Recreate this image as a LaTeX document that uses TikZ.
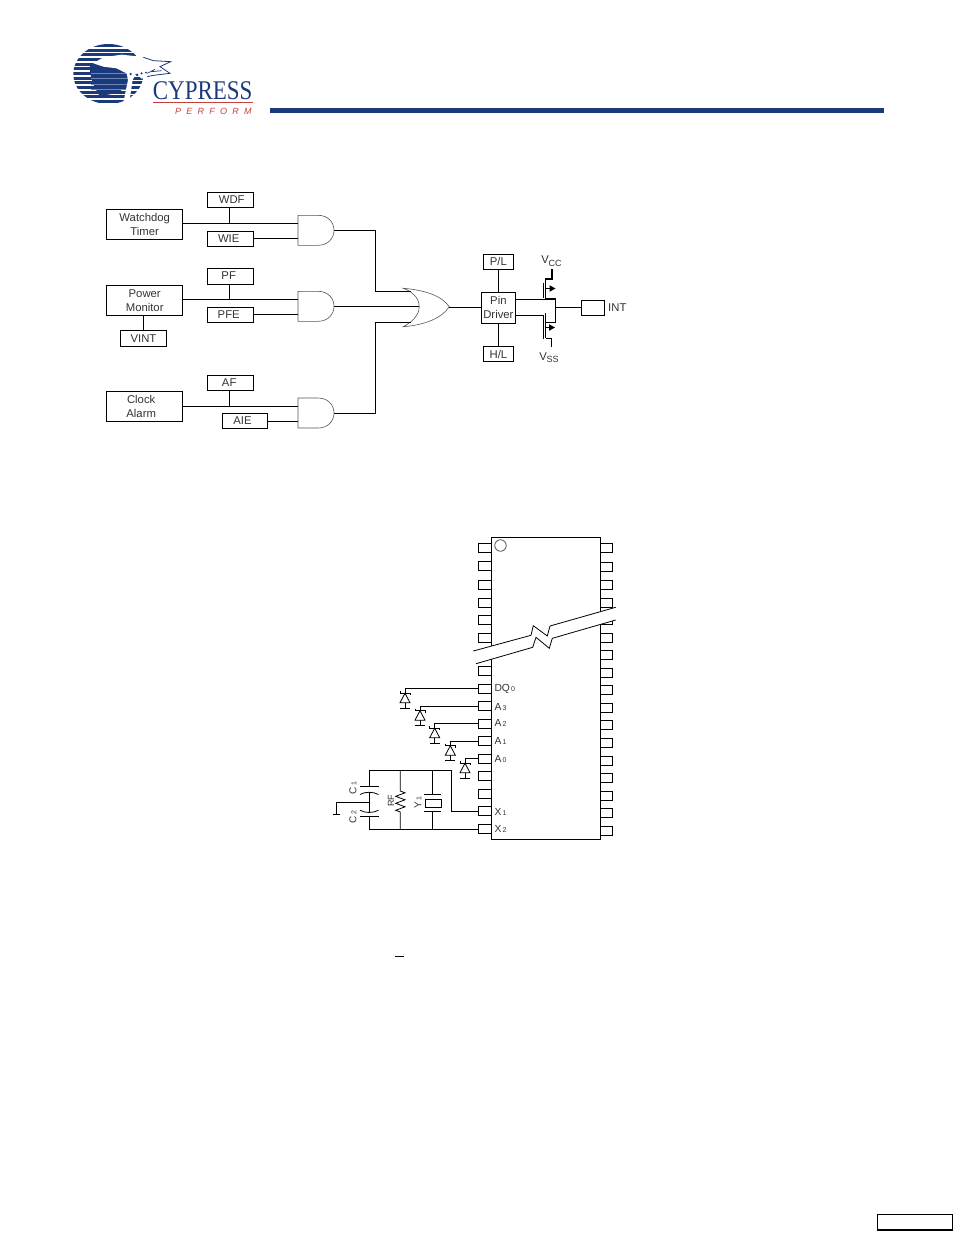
\documentclass[tikz,border=0pt]{standalone}
\usepackage{fontspec}
\setmainfont{Liberation Sans}
\newfontfamily\logoserif{Liberation Serif}
\newcommand\pxfont[1]{\fontsize{#1pt}{14pt}\selectfont}
\definecolor{cyblue}{HTML}{1B3A7C}
\definecolor{cylight}{HTML}{6F86B4}
\definecolor{cyred}{HTML}{C8403C}
\definecolor{inkgray}{HTML}{333333}
\definecolor{gategray}{HTML}{555555}
\tikzset{
  wire/.style={line width=0.8pt,black},
  thickwire/.style={line width=1.6pt,black},
  gate/.style={line width=0.6pt,draw=gategray},
  blockbox/.style={draw=black,line width=0.8pt,fill=white,inner sep=0pt,align=center,text=inkgray,font=\pxfont{11.3}},
  pinbox/.style={draw=black,line width=0.8pt,fill=white,inner sep=0pt,minimum width=12.5pt,minimum height=9pt},
  lab/.style={inner sep=0pt,text=inkgray,font=\pxfont{11.3}},
  pinlab/.style={inner sep=0pt,anchor=west,text=inkgray,font=\pxfont{10.3}},
  rotlab/.style={inner sep=0pt,rotate=90,text=inkgray,font=\pxfont{10}},
}
\newcommand\subs[1]{{\pxfont{7}\,#1}}
\begin{document}
\begin{tikzpicture}[x=1pt,y=-1pt]
\useasboundingbox (0,0) rectangle (954,1235);
\fill[white] (0,0) rectangle (954,1235);

% ---------- logo (drawn in 3x crop units) ----------
\begin{scope}[shift={(60,30)},x=0.3333pt,y=-0.3333pt]
  \begin{scope}
    \clip (145,132) ellipse [x radius=105,y radius=90];
    \foreach \yy in {42,56,70,84,98,112,126,140,154,168,182,196,210}
      \fill[cyblue] (30,\yy) rectangle (260,\yy+9);
    \fill[cyblue] (90,108) .. controls (140,100) and (195,112) .. (210,150)
       .. controls (205,175) and (170,196) .. (118,196) .. controls (100,170) and (88,135) .. (90,108) -- cycle;
    \foreach \yy in {128,145,162,178}
      \fill[cylight] (92,\yy) rectangle (205,\yy+1.5);
  \end{scope}
  \fill[white] (100,100) -- (130,82) -- (185,74) -- (240,80) -- (280,92) -- (332,95) -- (300,110) -- (330,130)
    -- (280,136) -- (245,146) -- (228,130) -- (218,150) -- (208,215) -- (190,218) -- (204,150) -- (200,130)
    -- (170,115) -- (130,110) -- cycle;
  \draw[cyblue,line width=0.8pt] (250,82) -- (280,92) -- (332,95) -- (300,110) -- (330,130) -- (280,136) -- (262,140);
  \draw[cyblue,line width=0.7pt] (275,125) -- (305,122) (262,130) -- (285,118);
  \fill[cyblue] (232,135) circle (4) (245,130) circle (3.5) (212,132) circle (4) (258,128) circle (3);
\end{scope}
\node[inner sep=0pt,anchor=west,text=cyblue,font=\logoserif\pxfont{27}] (logotext) at (152.7,90.5) {\addfontfeatures{FakeStretch=0.85}CYPRESS};
\fill[cyred] (153,102.3) rectangle (252.5,103.1);
\node[inner sep=0pt,anchor=west,text=cyred,font=\itshape\pxfont{9}] (logosub) at (175,111.5) {\addfontfeatures{LetterSpace=58}PERFORM};

% header rule
\fill[cyblue] (270,108) rectangle (884,113);

% ---------- interrupt logic ----------
\node[blockbox,minimum width=76pt,minimum height=30pt] (wd) at (144.7,224.3) {Watchdog\\Timer};
\node[blockbox,minimum width=46pt,minimum height=15.4pt] (wdf) at (230.7,200) {\hspace*{2pt}\raisebox{-1pt}{WDF}};
\node[blockbox,minimum width=46pt,minimum height=14.6pt] (wie) at (230.7,239) {\hspace*{-4pt}WIE};
\node[blockbox,minimum width=76pt,minimum height=30pt] (pm) at (144.7,300.3) {Power\\Monitor};
\node[blockbox,minimum width=46pt,minimum height=15.6pt] (pf) at (230.7,276.2) {\hspace*{-4pt}\raisebox{1pt}{PF}};
\node[blockbox,minimum width=46pt,minimum height=15pt] (pfe) at (230.7,314.8) {\hspace*{-4pt}\raisebox{0.5pt}{PFE}};
\node[blockbox,minimum width=46.4pt,minimum height=15.6pt] (vint) at (143.5,338.5) {VINT};
\node[blockbox,minimum width=76pt,minimum height=30pt] (ca) at (144.7,406.3) {\hspace*{-7pt}Clock\\\hspace*{-7pt}Alarm};
\node[blockbox,minimum width=46pt,minimum height=15pt] (af) at (230.7,383.2) {\hspace*{-3pt}\raisebox{1pt}{AF}};
\node[blockbox,minimum width=45.4pt,minimum height=15pt] (aie) at (245,421.2) {\hspace*{-5pt}\raisebox{1pt}{AIE}};

% AND gates: inputs, outputs
\foreach \n/\yt in {1/215.3,2/291.3,3/398}{
  \draw[gate] (298,\yt) -- (318,\yt) .. controls (328,\yt) and (334,\yt+7) .. (334,\yt+15)
     .. controls (334,\yt+23) and (328,\yt+30) .. (318,\yt+30) -- (298,\yt+30) -- cycle;
  \coordinate (a\n o) at (334,\yt+15);
  \coordinate (a\n a) at (298,\yt+8);
  \coordinate (a\n b) at (298,\yt+23);
}
% OR gate
\draw[gate] (403.3,288.3) .. controls (425,290) and (442,296) .. (449.3,306.7)
  .. controls (442,318) and (425,325) .. (403.3,326.7)
  .. controls (416,320) and (419.3,312) .. (419.3,306.7)
  .. controls (419.3,301) and (416,293) .. (403.3,288.3) -- cycle;
\coordinate (ortop) at (411,291.7);
\coordinate (ormid) at (419.3,306.7);
\coordinate (orbot) at (411,322.3);
\coordinate (orout) at (449.3,307.8);

\draw[wire] (wd.east |- a1a) -- (a1a);
\draw[wire] (wie.east |- a1b) -- (a1b);
\draw[wire] ([xshift=-1.4pt]wdf.south) -- ([xshift=-1.4pt]wdf.south |- a1a);
\draw[wire] (pm.east |- a2a) -- (a2a);
\draw[wire] (pfe.east |- a2b) -- (a2b);
\draw[wire] ([xshift=-1.4pt]pf.south) -- ([xshift=-1.4pt]pf.south |- a2a);
\draw[wire] (pm.south -| vint.north) -- (vint.north);
\draw[wire] (ca.east |- a3a) -- (a3a);
\draw[wire] (aie.east |- a3b) -- (a3b);
\draw[wire] ([xshift=-1.4pt]af.south) -- ([xshift=-1.4pt]af.south |- a3a);

\coordinate (busx) at (375.3,0);
\draw[wire] (a1o) -- (busx |- a1o) -- (busx |- ortop) -- (ortop);
\draw[wire] (a2o) -- (ormid |- a2o);
\draw[wire] (a3o) -- (busx |- a3o) -- (busx |- orbot) -- (orbot);

% Pin driver
\node[blockbox,minimum width=34.7pt,minimum height=31pt] (pd) at (498.4,307.8) {Pin\\Driver};
\node[blockbox,minimum width=30pt,minimum height=15pt] (pl) at (498.4,261.8) {P/L};
\node[blockbox,minimum width=30pt,minimum height=15.4pt] (hl) at (498.4,354) {H/L};
\node[blockbox,minimum width=22.6pt,minimum height=15.7pt] (intbox) at (593,307.8) {};
\node[lab,anchor=west] (intlab) at (608,307.3) {INT};
\draw[wire] (orout) -- (orout -| pd.west);
\draw[wire] (pl.south) -- (pd.north);
\draw[wire] (pd.south) -- (hl.north);

% Transistors
\node[lab] (vcc) at (551.5,261) {V\kern-0.5pt\raisebox{-2.5pt}{\pxfont{9}CC}};
\node[lab] (vss) at (549,357.5) {V\kern-0.5pt\raisebox{-2.5pt}{\pxfont{9}SS}};
\coordinate (vcct) at (551.7,269.3);
\coordinate (vsst) at (551.3,347);
\coordinate (outn) at (555.7,307.8);
\coordinate (chx) at (545.5,0);
\draw[thickwire] (vcct) -- (551.7,279) -- (chx |- 0,279) -- (chx |- 0,299) -- (outn |- 0,299);
\draw[wire] (outn |- 0,299) -- (outn |- 0,322.3) -- (chx |- 0,322.3);
\draw[wire] (pd.east |- 0,299) -- (chx |- 0,299);
\draw[wire] (pd.east |- 0,315.7) -- (543.2,315.7);
\draw[wire] (543.2,283) -- (543.2,298);
\draw[thickwire] (chx |- 0,313) -- (chx |- 0,338);
\draw[wire] (543.2,315) -- (543.2,338.5);
\draw[wire] (chx |- 0,338.3) -- (vsst |- 0,338.3) -- (vsst);
\draw[wire] (outn) -- (intbox.west);
\draw[wire] (chx |- 0,288.5) -- (550,288.5);
\fill[black] (555.5,288.5) -- (549.5,285.2) -- (549.5,291.8) -- cycle;
\draw[wire] (chx |- 0,327.5) -- (550,327.5);
\fill[black] (555,327.5) -- (549,324.2) -- (549,330.8) -- cycle;

% ---------- chip ----------
\foreach \i/\yy in {1/548.3,2/566,3/584.7,4/602.5,5/620,6/638,7/670.5,8/688.5,9/706,10/723.5,11/741,12/758.5,13/776,14/793.7,15/811.3,16/829}
  \node[pinbox] (lp\i) at (485,\yy) {};
\foreach \i/\yy in {1/548.3,2/566.8,3/584.7,4/603,5/620,6/638,7/655,8/673,9/690.3,10/707.8,11/725,12/743,13/760.5,14/778,15/795.5,16/813,17/830.5}
  \node[pinbox] (rp\i) at (606.3,\yy) {};
\node[draw=black,line width=0.8pt,fill=white,inner sep=0pt,minimum width=109pt,minimum height=302pt] (chip) at (545.7,688) {};
\node[draw=gategray,line width=0.8pt,circle,inner sep=0pt,minimum size=11.5pt] (dot) at (500.5,545.5) {};

% break
\fill[white] (473.3,651) -- (531,635.3) -- (533.3,625.7) -- (547.3,636) -- (550,626) -- (615.7,607.3)
  -- (615.7,620) -- (552.3,638.3) -- (549.3,648.3) -- (536,637.3) -- (532.7,647.3) -- (476,663.7) -- cycle;
\draw[wire] (473.3,651) -- (531,635.3) -- (533.3,625.7) -- (547.3,636) -- (550,626) -- (615.7,607.3);
\draw[wire] (476,663.7) -- (532.7,647.3) -- (536,637.3) -- (549.3,648.3) -- (552.3,638.3) -- (615.7,620);

% pin labels
\node[pinlab] (ldq) at (494.3,689) {DQ\subs{0}};
\node[pinlab] (la3) at (494.3,706.5) {A\subs{3}};
\node[pinlab] (la2) at (494.3,722.5) {A\subs{2}};
\node[pinlab] (la1) at (494.3,741) {A\subs{1}};
\node[pinlab] (la0) at (494.3,759) {A\subs{0}};
\node[pinlab] (lx1) at (494.3,812) {X\subs{1}};
\node[pinlab] (lx2) at (494.3,829) {X\subs{2}};

% diodes
\foreach \k/\xx/\pin in {1/405/8,2/420/9,3/434.7/10,4/450.3/11,5/465/12}{
  \coordinate (dk\k) at (\xx,0);
  \path (lp\pin.west) ++(0,4.7) coordinate (dtmp);
  \coordinate (dt\k) at (dk\k |- dtmp);
  \draw[wire] (lp\pin.west) -| (dt\k);
  \begin{scope}[shift={(dt\k)}]
    \draw[wire] (-5,-2) -- (-5,0) -- (5,0) -- (5,2);
    \draw[wire] (0,0) -- (-5,9.5) -- (5,9.5) -- cycle;
    \draw[wire] (0,9.5) -- (0,15) (-5,15) -- (5,15);
  \end{scope}
}

% crystal network
\coordinate (tl) at (369.3,770);
\coordinate (tr) at (451.7,770);
\coordinate (bl) at (369.3,829);
\coordinate (rfx) at (400.3,770);
\coordinate (yx) at (432.3,770);
\coordinate (gnd) at (336.3,814);
\draw[wire] (lp15.west) -| (tr) -- (tl) -- (369.3,786.7);
\draw[wire] (lp16.west) -- (bl) -- (369.3,816.7);
% capacitors
\draw[wire] (360,786.7) -- (378.5,786.7);
\draw[wire] (360,794.5) .. controls (365,791.5) and (373,791.5) .. (378.5,794.5);
\draw[wire] (369.3,791.8) -- (369.3,813);
\draw[wire] (360,810.2) .. controls (365,813.2) and (373,813.2) .. (378.5,810.2);
\draw[wire] (360,816.7) -- (378.5,816.7);
\draw[wire] (369.3,802.3) -- (gnd |- 0,802.3) -- (gnd);
\draw[wire] (332.8,814) -- (340,814);
% resistor
\draw[wire] (rfx) -- (400.3,791) -- (405,792.8) -- (395.7,796.3) -- (405,799.8) -- (395.7,803.3) -- (405,806.8) -- (395.7,810.3) -- (400.3,812) -- (rfx |- bl);
% crystal
\draw[wire] (yx) -- (432.3,794) (424,794) -- (441,794);
\node[draw=black,line width=0.8pt,inner sep=0pt,minimum width=16.5pt,minimum height=8pt] (ybox) at (433.3,803.3) {};
\draw[wire] (424,811.7) -- (441,811.7) (432.3,811.7) -- (yx |- bl);
% rotated labels
\node[rotlab] (c1) at (353,788) {C\subs{1}};
\node[rotlab] (c2) at (353,817) {C\subs{2}};
\node[rotlab] (rf) at (391,800.5) {\pxfont{9}RF};
\node[rotlab] (y1) at (418,802.5) {Y\subs{1}};

% stray overline and footer box
\draw[line width=0.9pt] (395,956.3) -- (404,956.3);
\draw[line width=1pt] (877.5,1214.7) rectangle (952.3,1229.7);
\draw[line width=1.6pt] (877,1230) -- (952.8,1230);
\end{tikzpicture}
\end{document}
